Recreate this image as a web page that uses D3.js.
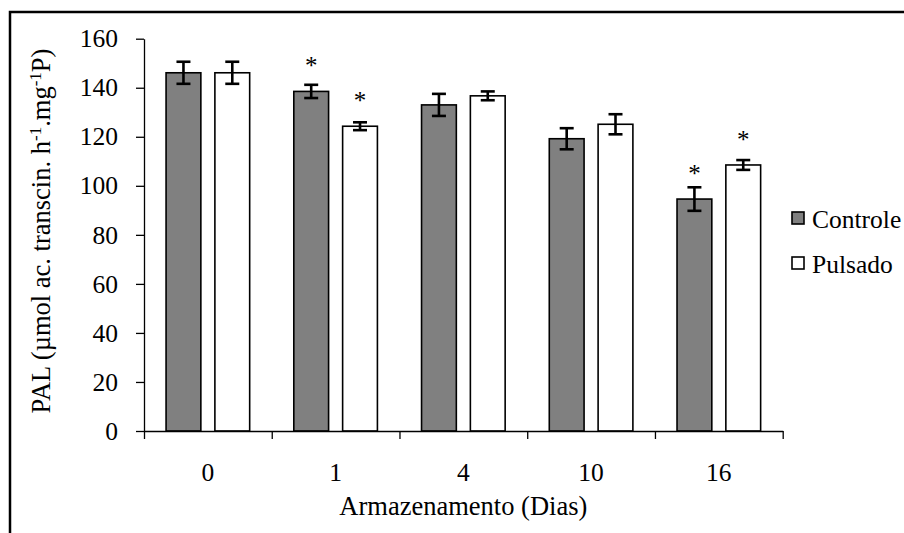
<!DOCTYPE html>
<html>
<head>
<meta charset="utf-8">
<script src="https://cdn.jsdelivr.net/npm/d3@7"></script>
<style>
  body { margin: 0; background: #fff; }
  svg { display: block; }
  svg text { font-family: "Liberation Serif", "Times New Roman", serif !important; fill: #000; }
</style>
</head>
<body>
<svg id="chart" width="904" height="533"></svg>
<script>
// data
const days = ["0", "1", "4", "10", "16"];
const seriesNames = ["Controle", "Pulsado"];
const controle = [146.1, 138.5, 133.0, 119.2, 94.6];
const controleErr = [4.5, 2.7, 4.5, 4.3, 4.8];
const pulsado = [146.1, 124.3, 136.7, 125.1, 108.5];
const pulsadoErr = [4.5, 1.6, 1.8, 4.1, 2.0];
const controleStar = [false, true, false, false, true];
const pulsadoStar = [false, true, false, false, true];
const yTicks = [0, 20, 40, 60, 80, 100, 120, 140, 160];

const colors = { Controle: "#808080", Pulsado: "#ffffff" };

const rows = [];
days.forEach((d, i) => {
    rows.push({ day: d, serie: "Controle", value: controle[i], err: controleErr[i], star: controleStar[i] });
    rows.push({ day: d, serie: "Pulsado", value: pulsado[i], err: pulsadoErr[i], star: pulsadoStar[i] });
});

const svg = d3.select("#chart");

// outer frame (only top and left are visible)
svg.append("rect")
   .attr("x", 10).attr("y", 12)
   .attr("width", 1000).attr("height", 1000)
   .attr("fill", "none")
   .attr("stroke", "#000")
   .attr("stroke-width", 2.5);

const plotLeft = 144, plotRight = 782.7, plotTop = 38.7, plotBottom = 431;

const x0 = d3.scaleBand()
             .domain(days)
             .range([plotLeft, plotRight]);

const x1 = d3.scaleBand()
             .domain(seriesNames)
             .range([0, x0.bandwidth()])
             .paddingInner(0.2875)
             .paddingOuter(0.452);

const y = d3.scaleLinear()
            .domain([0, 160])
            .range([plotBottom, plotTop]);

const cx = d => x0(d.day) + x1(d.serie) + x1.bandwidth() / 2;

// bars
const g = svg.append("g");

g.selectAll("rect.bar")
 .data(rows)
 .enter()
 .append("rect")
 .attr("class", "bar")
 .attr("x", d => x0(d.day) + x1(d.serie))
 .attr("y", d => y(d.value))
 .attr("width", x1.bandwidth())
 .attr("height", d => y(0) - y(d.value))
 .attr("fill", d => colors[d.serie])
 .attr("stroke", "#000")
 .attr("stroke-width", 1.6);

// error bars
const capW = 7;
const err = g.selectAll("g.err")
             .data(rows)
             .enter()
             .append("g")
             .attr("class", "err")
             .attr("stroke", "#000")
             .attr("stroke-width", 2.6);

err.append("line")
   .attr("x1", cx)
   .attr("x2", cx)
   .attr("y1", d => y(d.value + d.err))
   .attr("y2", d => y(d.value - d.err));

err.append("line")
   .attr("x1", d => cx(d) - capW)
   .attr("x2", d => cx(d) + capW)
   .attr("y1", d => y(d.value + d.err))
   .attr("y2", d => y(d.value + d.err));

err.append("line")
   .attr("x1", d => cx(d) - capW)
   .attr("x2", d => cx(d) + capW)
   .attr("y1", d => y(d.value - d.err))
   .attr("y2", d => y(d.value - d.err));

// asterisks
g.selectAll("text.star")
 .data(rows.filter(d => d.star))
 .enter()
 .append("text")
 .attr("class", "star")
 .attr("x", cx)
 .attr("y", d => y(d.value) - 29 + 12)
 .attr("text-anchor", "middle")
 .attr("font-size", 25)
 .text("*");

// y axis
const yAxis = d3.axisLeft(y)
                .tickValues(yTicks)
                .tickSize(8)
                .tickSizeOuter(0)
                .tickPadding(18);

svg.append("g")
   .attr("class", "y-axis")
   .attr("transform", "translate(" + plotLeft + ",0)")
   .call(yAxis);

// x axis: labels centred in bands, ticks on band edges
const xLabels = d3.axisBottom(x0)
                  .tickSize(0)
                  .tickSizeOuter(0)
                  .tickPadding(31.5);

svg.append("g")
   .attr("class", "x-axis")
   .attr("transform", "translate(0," + plotBottom + ")")
   .call(xLabels);

const edge = d3.scaleLinear().domain([0, days.length]).range([plotLeft, plotRight]);
const xTicks = d3.axisBottom(edge)
                 .ticks(days.length)
                 .tickSize(8)
                 .tickSizeOuter(0)
                 .tickFormat("");

svg.append("g")
   .attr("class", "x-ticks")
   .attr("transform", "translate(0," + plotBottom + ")")
   .call(xTicks)
   .select(".domain").remove();

svg.selectAll(".y-axis path, .y-axis line, .x-axis path, .x-ticks line")
   .attr("stroke", "#000")
   .attr("stroke-width", 1.3);

svg.selectAll(".y-axis text, .x-axis text")
   .attr("font-size", 25.5);

// axis titles
svg.append("text")
   .attr("x", (plotLeft + plotRight) / 2)
   .attr("y", 515)
   .attr("text-anchor", "middle")
   .attr("font-size", 26.5)
   .text("Armazenamento (Dias)");

const yt = svg.append("text")
              .attr("transform", "translate(50,231) rotate(-90)")
              .attr("text-anchor", "middle")
              .attr("font-size", 26.5);
yt.append("tspan").text("PAL (µmol ac. transcin. h");
yt.append("tspan").attr("font-size", 17).attr("dy", -9).text("-1");
yt.append("tspan").attr("dy", 9).text(".mg");
yt.append("tspan").attr("font-size", 17).attr("dy", -9).text("-1");
yt.append("tspan").attr("dy", 9).text("P)");

// legend
const legend = svg.append("g")
                  .selectAll("g")
                  .data(seriesNames)
                  .enter()
                  .append("g")
                  .attr("transform", (d, i) => "translate(792," + (212 + i * 45) + ")");

legend.append("rect")
      .attr("width", 12)
      .attr("height", 12)
      .attr("fill", d => colors[d])
      .attr("stroke", "#000")
      .attr("stroke-width", 1.6);

legend.append("text")
      .attr("x", 20)
      .attr("y", 15.5)
      .attr("font-size", 25.5)
      .text(d => d);
</script>
</body>
</html>
